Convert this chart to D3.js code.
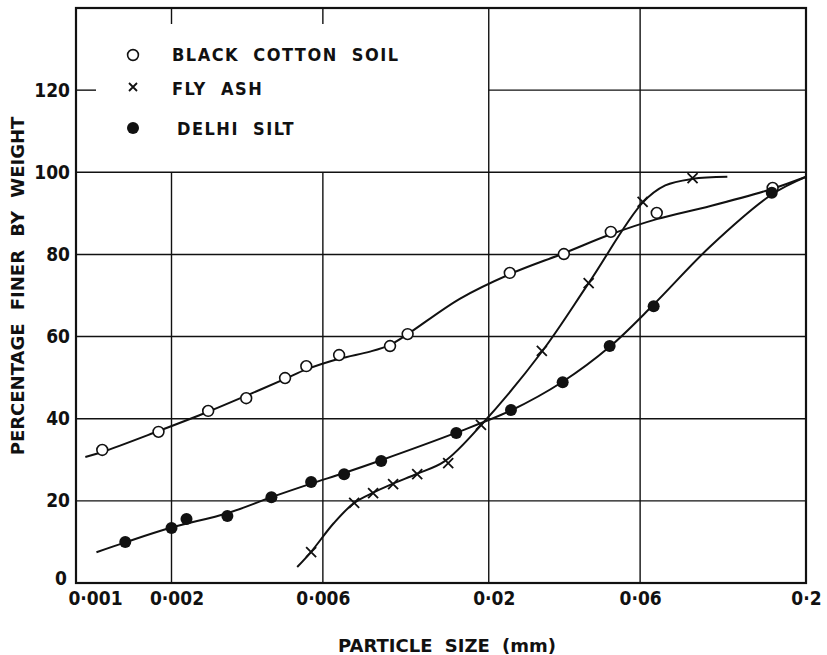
<!DOCTYPE html>
<html>
<head>
<meta charset="utf-8">
<script src="https://cdn.jsdelivr.net/npm/d3@7"></script>
<style>
  body { margin: 0; background: #fff; }
  svg text { font-family: "DejaVu Sans", sans-serif; font-weight: bold; fill: #111; }
  svg .cond { font-family: "DejaVu Sans Condensed", "DejaVu Sans", sans-serif; }
</style>
</head>
<body>
<div id="chart"></div>
<script>
// grain size distribution curves (semi-log)

// particle size (mm) and percentage finer
const blackCottonSize = [0.00121, 0.00182, 0.00261, 0.00344, 0.00456, 0.00532, 0.00675, 0.00977, 0.0111, 0.0233, 0.0345, 0.0485, 0.0677, 0.157];
const blackCottonPct  = [32.4, 36.8, 41.9, 45.0, 49.9, 52.8, 55.5, 57.7, 60.6, 75.5, 80.1, 85.5, 90.1, 96.2];

const flyAshSize = [0.00551, 0.00753, 0.00864, 0.00999, 0.0119, 0.0149, 0.0189, 0.0294, 0.0413, 0.0611, 0.0878];
const flyAshPct  = [7.5, 19.5, 21.9, 24.1, 26.5, 29.2, 38.5, 56.5, 73.0, 92.8, 98.6];

const delhiSiltSize = [0.00143, 0.00200, 0.00223, 0.00300, 0.00413, 0.00551, 0.00700, 0.00916, 0.0158, 0.0235, 0.0342, 0.0481, 0.0662, 0.156];
const delhiSiltPct  = [10.0, 13.4, 15.6, 16.3, 20.9, 24.6, 26.5, 29.7, 36.5, 42.1, 48.9, 57.7, 67.4, 95.0];

// smooth hand drawn curves through the points (size, percent)
const blackCottonCurve = [[0.00107, 30.7], [0.00121, 31.9], [0.00182, 37.0], [0.00261, 41.7], [0.00344, 45.6],
    [0.00456, 49.7], [0.00532, 52.0], [0.00675, 54.6], [0.0085, 56.4], [0.00977, 58.0], [0.0111, 60.6],
    [0.0162, 69.2], [0.0233, 75.2], [0.0345, 80.3], [0.0485, 84.9], [0.0677, 88.6], [0.1, 91.8],
    [0.157, 96.0], [0.2, 98.9]];
const flyAshCurve = [[0.00498, 3.9], [0.00551, 7.6], [0.0065, 14.6], [0.00753, 19.5], [0.00864, 22.0],
    [0.00999, 24.2], [0.0119, 26.6], [0.0145, 29.6], [0.0189, 38.4], [0.0294, 56.3],
    [0.0413, 73.0], [0.0611, 92.6], [0.0720, 96.8], [0.0878, 98.4], [0.113, 98.9]];
const delhiSiltCurve = [[0.00116, 7.5], [0.00143, 9.9], [0.00200, 13.5], [0.00300, 17.0], [0.00413, 20.9],
    [0.00551, 24.2], [0.00700, 26.8], [0.00916, 29.9], [0.0158, 36.6], [0.0235, 42.0], [0.0342, 49.0],
    [0.0481, 57.5], [0.0662, 67.8], [0.1, 82.0], [0.156, 94.6], [0.2, 98.9]];

const xTicks = [0.001, 0.002, 0.006, 0.02, 0.06, 0.2];
const xTickLabels = ['0·001', '0·002', '0·006', '0·02', '0·06', '0·2'];
const yTicks = [0, 20, 40, 60, 80, 100, 120];

const legendItems = ['BLACK COTTON SOIL', 'FLY ASH', 'DELHI SILT'];

const width = 827, height = 655;
const svg = d3.select('#chart').append('svg')
    .attr('width', width)
    .attr('height', height);

const x = d3.scaleLog().domain([0.001, 0.2]).range([76, 806]);
const y = d3.scaleLinear().domain([0, 140]).range([583, 8]);

const ink = '#111';

// grid
const grid = svg.append('g').attr('stroke', ink).attr('stroke-width', 1.4);
yTicks.filter(v => v > 0 && v < 120).forEach(v => {
    grid.append('line').attr('x1', x(0.001)).attr('x2', x(0.2)).attr('y1', y(v)).attr('y2', y(v));
});
// the 120 line is broken by the legend
grid.append('line').attr('x1', x(0.001)).attr('x2', x(0.001) + 20).attr('y1', y(120)).attr('y2', y(120));
grid.append('line').attr('x1', x(0.02)).attr('x2', x(0.2)).attr('y1', y(120)).attr('y2', y(120));

xTicks.slice(1, -1).forEach(v => {
    const full = v >= 0.02;
    grid.append('line').attr('x1', x(v)).attr('x2', x(v))
        .attr('y1', y(0)).attr('y2', full ? y(140) : y(100));
    if (!full) {
        grid.append('line').attr('x1', x(v)).attr('x2', x(v))
            .attr('y1', y(140)).attr('y2', y(140) + 16);
    }
});

// frame
svg.append('rect')
    .attr('x', x(0.001)).attr('y', y(140))
    .attr('width', x(0.2) - x(0.001)).attr('height', y(0) - y(140))
    .attr('fill', 'none').attr('stroke', ink).attr('stroke-width', 2.2);

// axes (labels only)
const xAxis = svg.append('g')
    .attr('transform', `translate(0,${y(0)})`)
    .call(d3.axisBottom(x).tickValues(xTicks).tickSize(0).tickPadding(9)
        .tickFormat((d, i) => xTickLabels[i]));
xAxis.select('.domain').remove();
xAxis.selectAll('text').attr('class', 'cond').style('font-size', '19px')
    .attr('dx', (d, i) => i === 0 ? 19 : (i === 1 || i === 3) ? 5 : 0);

const yAxis = svg.append('g')
    .attr('transform', `translate(${x(0.001)},0)`)
    .call(d3.axisLeft(y).tickValues(yTicks).tickSize(0).tickPadding(6));
yAxis.select('.domain').remove();
yAxis.selectAll('text').attr('class', 'cond').style('font-size', '19px')
    .attr('dx', d => d === 0 ? -3 : 0)
    .attr('dy', d => d === 0 ? '0.1em' : '0.32em');

svg.append('text')
    .attr('x', 447).attr('y', 652)
    .attr('text-anchor', 'middle')
    .style('font-size', '18px').style('word-spacing', '6px')
    .text('PARTICLE SIZE (mm)');

svg.append('text')
    .attr('transform', 'translate(24,286) rotate(-90)')
    .attr('text-anchor', 'middle')
    .style('font-size', '18px').style('word-spacing', '7px')
    .text('PERCENTAGE FINER BY WEIGHT');

// curves
const line = d3.line()
    .x(d => x(d[0]))
    .y(d => y(d[1]))
    .curve(d3.curveCatmullRom.alpha(0.5));

[blackCottonCurve, flyAshCurve, delhiSiltCurve].forEach(pts => {
    svg.append('path')
        .attr('d', line(pts))
        .attr('fill', 'none')
        .attr('stroke', ink)
        .attr('stroke-width', 2);
});

// markers
function openCircle(g, cx, cy) {
    g.append('circle').attr('cx', cx).attr('cy', cy).attr('r', 5.4)
        .attr('fill', '#fff').attr('stroke', ink).attr('stroke-width', 1.6);
}
function dot(g, cx, cy) {
    g.append('circle').attr('cx', cx).attr('cy', cy).attr('r', 6)
        .attr('fill', ink);
}
function cross(g, cx, cy, s) {
    g.append('path')
        .attr('d', `M${cx - s},${cy - s}L${cx + s},${cy + s}M${cx - s},${cy + s}L${cx + s},${cy - s}`)
        .attr('stroke', ink).attr('stroke-width', 1.8);
}

const marks = svg.append('g');
blackCottonSize.forEach((s, i) => openCircle(marks, x(s), y(blackCottonPct[i])));
flyAshSize.forEach((s, i) => cross(marks, x(s), y(flyAshPct[i]), 5));
delhiSiltSize.forEach((s, i) => dot(marks, x(s), y(delhiSiltPct[i])));

// legend
const legend = svg.append('g');
openCircle(legend, 133, 55);
cross(legend, 133, 87, 4);
dot(legend, 133, 128);
[61, 95, 135].forEach((ty, i) => {
    legend.append('text')
        .attr('class', 'cond')
        .attr('x', i === 2 ? 177 : 172).attr('y', ty)
        .style('font-size', '18px')
        .style('letter-spacing', '1.5px')
        .style('word-spacing', '7px')
        .text(legendItems[i]);
});
</script>
</body>
</html>
